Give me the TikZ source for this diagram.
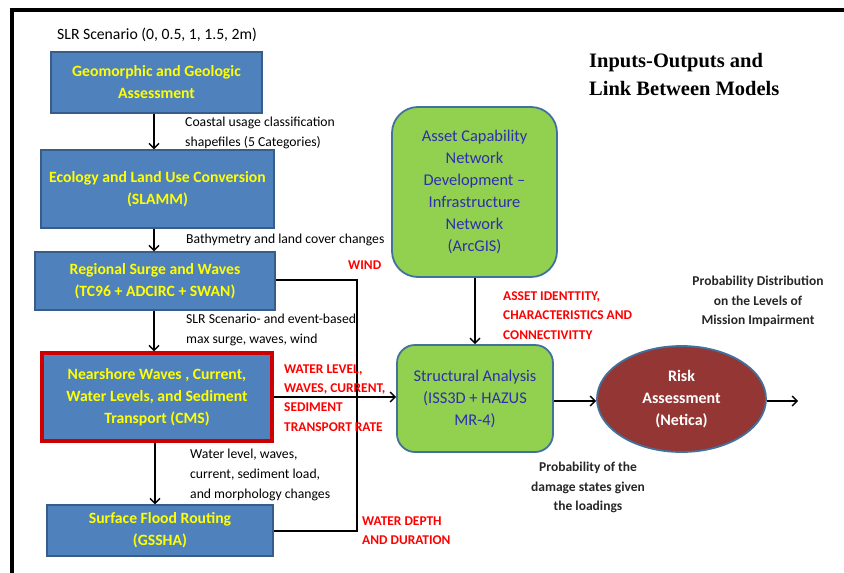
\documentclass[tikz,border=0pt]{standalone}
\usepackage{fontspec}
\setmainfont{Carlito}
\newfontfamily\titlefont{Liberation Serif}
\usetikzlibrary{arrows.meta,shapes.geometric}
\definecolor{boxblue}{HTML}{4F81BD}
\definecolor{edgeblue}{HTML}{385D8A}
\definecolor{boxgreen}{HTML}{92D050}
\definecolor{greenedge}{HTML}{41719C}
\definecolor{txtblue}{HTML}{2E2EB0}
\definecolor{riskred}{HTML}{943634}
\definecolor{boxyellow}{HTML}{FFFF00}
\definecolor{lblred}{HTML}{FF0000}
\tikzset{
  bluebox/.style={draw=edgeblue, line width=1.5pt, fill=boxblue, text=boxyellow,
    font=\fontsize{15.7}{22}\selectfont\bfseries, align=center, inner sep=0pt},
  greenbox/.style={draw=greenedge, line width=1.8pt, fill=boxgreen, text=txtblue,
    font=\fontsize{16.4}{22}\selectfont, align=center, inner sep=0pt},
  arr/.style={line width=1.4pt, -{Straight Barb[length=5pt,width=10pt,line width=1.4pt]}},
  conn/.style={line width=1.4pt},
  lbl/.style={font=\fontsize{13.7}{20}\selectfont, align=left, inner sep=0pt, text=black},
  redlbl/.style={font=\fontsize{13.4}{19.2}\selectfont\bfseries, align=left, inner sep=0pt, text=lblred},
  problbl/.style={font=\fontsize{13.5}{19.5}\selectfont\bfseries, align=center, inner sep=0pt, text=black!85}
}
\begin{document}
\begin{tikzpicture}[x=1pt,y=-1pt]
\useasboundingbox (0,0) rectangle (844,573);
% frame
\draw[line width=4pt] (12,573) -- (12,9.5) -- (844,9.5);

% title
\node[font=\titlefont\fontsize{20.5}{28}\selectfont\bfseries, align=left, anchor=west, inner sep=0pt] (title) at (589,74) {Inputs-Outputs and\\Link Between Models};

% left column
\node[lbl, font=\fontsize{15.7}{18}\selectfont, anchor=west] (slr) at (57,35) {SLR Scenario (0, 0.5, 1, 1.5, 2m)};
\node[bluebox, minimum width=211pt, minimum height=61pt] (b1) at (156.5,82.5) {Geomorphic and Geologic\\Assessment};
\node[bluebox, minimum width=233pt, minimum height=78pt] (b2) at (157.5,189) {Ecology and Land Use Conversion\\(SLAMM)};
\node[bluebox, minimum width=240pt, minimum height=58pt] (b3) at (155,281) {Regional Surge and Waves\\(TC96 + ADCIRC + SWAN)};
\node[bluebox, draw=red!80!black, line width=3.5pt, minimum width=230pt, minimum height=88pt] (b4) at (157,397) {Nearshore Waves , Current,\\Water Levels, and  Sediment\\Transport (CMS)};
\node[bluebox, minimum width=226pt, minimum height=51pt] (b5) at (160,530.5) {Surface Flood Routing\\(GSSHA)};

\coordinate (ax) at (154,0);
\coordinate (ax2) at (155,0);
\draw[arr] (b1.south -| ax) -- (b2.north -| ax);
\draw[arr] (b2.south -| ax) -- (b3.north -| ax);
\draw[arr] (b3.south -| ax) -- (b4.north -| ax);
\draw[arr] (b4.south -| ax2) -- (b5.north -| ax2);

\node[lbl, anchor=west] (l1) at (185,133) {Coastal usage classification\\shapefiles (5 Categories)};
\node[lbl, anchor=west] (l2) at (186,240) {Bathymetry and land cover changes};
\node[lbl, anchor=west] (l3) at (186,330) {SLR Scenario- and event-based\\max surge, waves, wind};
\node[lbl, anchor=west] (l4) at (190,475) {Water level, waves,\\current,  sediment load,\\and morphology changes};

% right part
\node[greenbox, rounded corners=26pt, minimum width=165pt, minimum height=170pt] (asset) at (474.5,192) {Asset Capability\\Network\\Development --\\Infrastructure\\Network\\(ArcGIS)};
\node[greenbox, rounded corners=18pt, minimum width=156pt, minimum height=107pt] (sa) at (475,398.5) {Structural Analysis\\(ISS3D + HAZUS\\MR-4)};
\node[ellipse, draw=greenedge, line width=1.8pt, fill=riskred, text=white, font=\fontsize{16}{22}\selectfont\bfseries, align=center, minimum width=169pt, minimum height=106pt, inner sep=0pt] (risk) at (681.5,399) {Risk\\Assessment\\(Netica)};
\coordinate (out) at (798,401);

% wind / water depth collector line
\coordinate (c1) at (357,280);
\coordinate (c2) at (357,531);
\draw[conn] (b3.east |- c1) -- (c1) -- (c2) -- (b5.east |- c2);

\coordinate (wl) at (0,397);
\draw[arr] (b4.east |- wl) -- (sa.west |- wl);
\draw[arr] (asset.south -| sa.north) -- (sa.north);
\coordinate (rl) at (0,401);
\draw[arr] (sa.east |- rl) -- (risk.west |- rl);
\draw[arr] (risk.east |- rl) -- (out);

% red labels
\node[redlbl, anchor=west] (wind) at (348,265) {WIND};
\node[redlbl, anchor=west] (wlv) at (284,398) {WATER LEVEL,\\WAVES, CURRENT,\\SEDIMENT\\TRANSPORT RATE};
\node[redlbl, anchor=west] (wd) at (362,531) {WATER DEPTH\\AND DURATION};
\node[redlbl, anchor=west] (aid) at (503,315.5) {ASSET IDENTTITY,\\CHARACTERISTICS AND\\CONNECTIVITTY};

% probability labels
\node[problbl] (p1) at (758,301.5) {Probability Distribution\\on the Levels of\\Mission Impairment};
\node[problbl] (p2) at (588,487.5) {Probability  of the\\damage states given\\the loadings};
\end{tikzpicture}
\end{document}
